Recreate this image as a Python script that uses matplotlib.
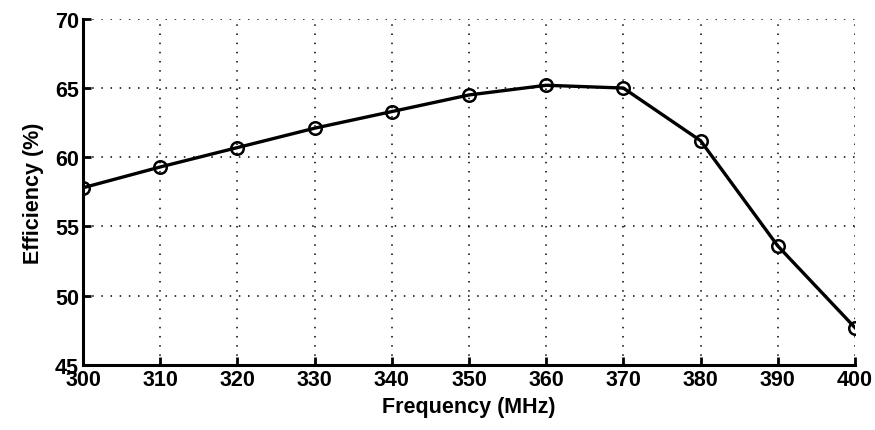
import matplotlib
matplotlib.use('Agg')
from matplotlib import pyplot as plt

freq = [300, 310, 320, 330, 340, 350, 360, 370, 380, 390, 400]
efficiency = [57.8, 59.3, 60.7, 62.1, 63.3, 64.5, 65.2, 65.0, 61.2, 53.6, 47.7]
x_ticks = [300, 310, 320, 330, 340, 350, 360, 370, 380, 390, 400]
y_ticks = [45, 50, 55, 60, 65, 70]

plt.rcParams['font.family'] = ['Liberation Sans', 'DejaVu Sans']
plt.rcParams['font.weight'] = 'bold'

fig = plt.figure(figsize=(8.75, 4.31), dpi=100)
ax = fig.add_axes([0.095, 0.151, 0.882, 0.803])

ax.plot(freq, efficiency, color='black', linewidth=2.4, marker='o',
        markersize=9, markerfacecolor='none', markeredgewidth=1.8)

ax.set_xlim(300, 400)
ax.set_ylim(45, 70)
ax.set_xticks(x_ticks)
ax.set_yticks(y_ticks)
ax.grid(True, color='black', linestyle=(0, (1, 5)), linewidth=1.1)

for side in ['top', 'right']:
    ax.spines[side].set_visible(False)
for side in ['left', 'bottom']:
    ax.spines[side].set_linewidth(2.2)

ax.tick_params(direction='in', length=6, width=2, labelsize=15.5, pad=3)
for lbl in ax.get_xticklabels() + ax.get_yticklabels():
    lbl.set_fontweight('bold')

ax.set_xlabel('Frequency (MHz)', fontsize=15.5, fontweight='bold', labelpad=4)
ax.set_ylabel('Efficiency (%)', fontsize=15.5, fontweight='bold', labelpad=8)

fig.savefig('out.png', dpi=100)
